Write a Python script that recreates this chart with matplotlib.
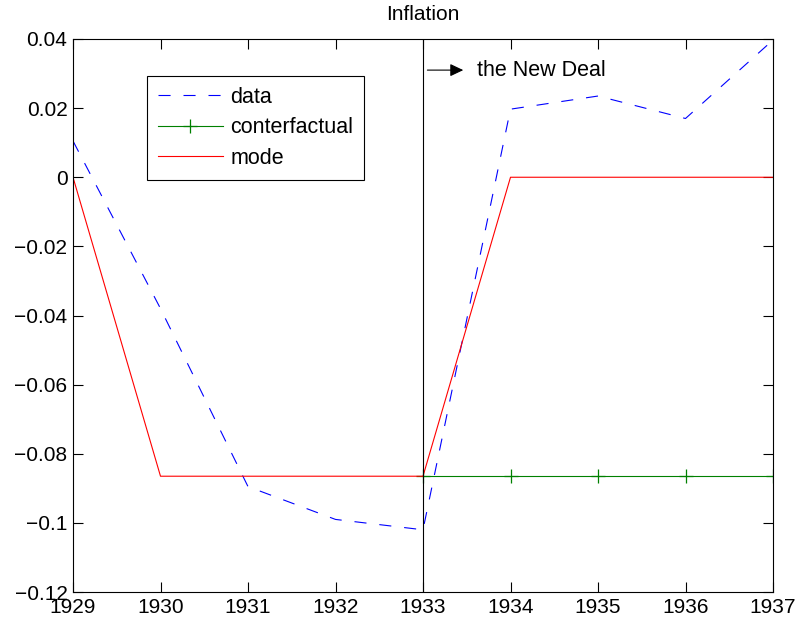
import matplotlib
matplotlib.use("Agg")
import matplotlib.pyplot as plt

years = [1929, 1930, 1931, 1932, 1933, 1934, 1935, 1936, 1937]
data = [0.0105, -0.038, -0.0895, -0.099, -0.102, 0.0197, 0.0235, 0.017, 0.0397]
cf_years = [1933, 1934, 1935, 1936, 1937]
counterfactual = [-0.0865, -0.0865, -0.0865, -0.0865, -0.0865]
mode = [0.0, -0.0865, -0.0865, -0.0865, -0.0865, 0.0, 0.0, 0.0, 0.0]
yticks = [-0.12, -0.1, -0.08, -0.06, -0.04, -0.02, 0, 0.02, 0.04]
yticklabels = ["\u22120.12", "\u22120.1", "\u22120.08", "\u22120.06", "\u22120.04", "\u22120.02", "0", "0.02", "0.04"]

plt.rcParams['font.family'] = ['Liberation Sans', 'DejaVu Sans']
plt.rcParams['lines.scale_dashes'] = False

fig = plt.figure(figsize=(7.99, 6.27), dpi=100)
ax = fig.add_axes([73/799, 1 - 592/627, 700/799, 553/627])

ax.plot(years, data, color=(0, 0, 1), lw=0.8, dashes=(8.7, 9.3), label='data')
ax.plot(cf_years, counterfactual, color=(0, 0.5, 0), lw=0.8, marker='+', ms=10, mew=0.9, label='conterfactual')
ax.plot(years, mode, color=(1, 0, 0), lw=0.8, label='mode')
ax.axvline(1933, color='black', lw=0.8)

ax.annotate('', xy=(1933.46, 0.031), xytext=(1933.05, 0.031),
            arrowprops=dict(arrowstyle='-|>,head_length=0.8,head_width=0.38', color='black', lw=0.8,
                            shrinkA=0, shrinkB=0))
ax.text(1933.62, 0.031, 'the New Deal', fontsize=15.5, va='center', ha='left')

ax.set_xlim(1929, 1937)
ax.set_ylim(-0.12, 0.04)
ax.set_xticks(years)
ax.set_xticklabels([str(y) for y in years])
ax.set_yticks(yticks)
ax.set_yticklabels(yticklabels)
ax.tick_params(direction='in', length=7, width=0.8, top=True, right=True, labelsize=15, pad=4)
for s in ax.spines.values():
    s.set_linewidth(0.8)
ax.set_title('Inflation', fontsize=15, pad=14)

leg = ax.legend(loc='upper left', bbox_to_anchor=(0.106, 0.933), borderaxespad=0,
                fontsize=15.5, fancybox=False, framealpha=1, edgecolor='black',
                handlelength=3.0, handletextpad=0.35, labelspacing=0.44, borderpad=0.5)
leg.get_frame().set_linewidth(0.8)

fig.savefig('out.png', dpi=100)
